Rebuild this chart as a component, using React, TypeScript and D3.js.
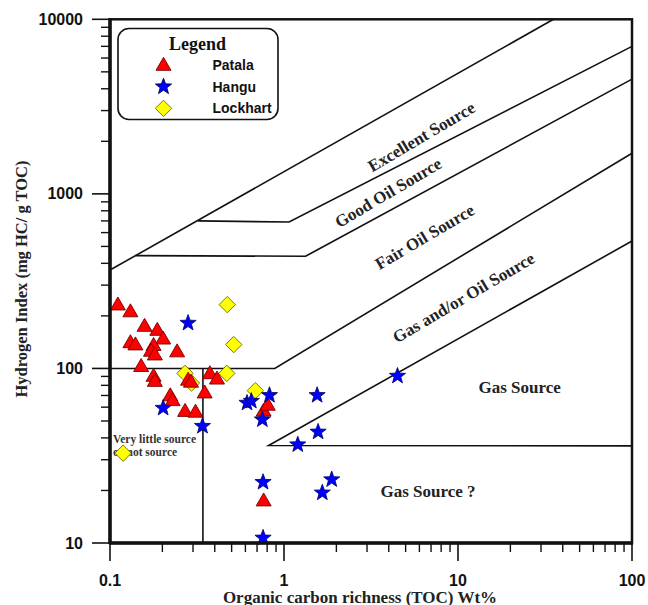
import React from "react";
import * as d3 from "d3";

// ---- data ----
const patalaTOC = [0.111, 0.131, 0.158, 0.187, 0.202, 0.131, 0.14, 0.178, 0.172, 0.181, 0.243, 0.151, 0.178, 0.181, 0.281, 0.292, 0.375, 0.412, 0.35, 0.222, 0.229, 0.27, 0.31, 0.764, 0.807, 0.764];
const patalaHI = [232, 212, 175, 166, 148, 141, 137, 136, 126, 120, 125, 103, 90.5, 84.7, 86, 83.8, 93.7, 87.3, 72.7, 70, 65.7, 57, 56.4, 57.2, 61.8, 17.5];

const hanguTOC = [0.281, 0.202, 0.34, 0.613, 0.649, 0.825, 0.751, 1.55, 1.57, 1.2, 4.49, 0.758, 1.88, 1.66, 0.758];
const hanguHI = [182, 59.3, 46.7, 63.4, 65, 70.2, 50.9, 70.2, 43.3, 36.6, 90.5, 22.3, 23.1, 19.4, 10.7];

const lockhartTOC = [0.472, 0.514, 0.27, 0.294, 0.469, 0.684, 0.119];
const lockhartHI = [232, 137, 93.7, 82.5, 93.7, 74.6, 32.7];

// boundary lines of the source-rock diagram (TOC, HI)
const boundaryTOC = [
  [0.1, 35.4],
  [0.32, 1.07, 100],
  [0.14, 1.33, 100],
  [0.1, 0.885, 100],
  [100, 0.816, 100],
  [0.342, 0.342],
];
const boundaryHI = [
  [366, 10000],
  [700, 690, 7000],
  [443, 439, 4540],
  [100, 100, 1710],
  [537, 36.2, 36],
  [100, 10],
];

const zoneLabels = ["Excellent Source", "Good Oil Source", "Fair Oil Source", "Gas and/or Oil Source"];
const zoneTOC = [6.17, 3.98, 6.44, 10.8];
const zoneHI = [2117, 1014, 565, 254];

const xTicks = [0.1, 1, 10, 100];
const xTickLabels = ["0.1", "1", "10", "100"];
const yTicks = [10, 100, 1000, 10000];
const yTickLabels = ["10", "100", "1000", "10000"];

const legendNames = ["Patala", "Hangu", "Lockhart"];

const W = 648;
const H = 605;
const left = 110, right = 632, top = 19.3, bottom = 543;

function trianglePath(s: number) {
  const h = (s * Math.sqrt(3)) / 2;
  return `M0,${-(2 * h) / 3}L${s / 2},${h / 3}L${-s / 2},${h / 3}Z`;
}
function starPath(R: number, r: number) {
  let p = "";
  for (let i = 0; i < 10; i++) {
    const rad = i % 2 === 0 ? R : r;
    const a = -Math.PI / 2 + (i * Math.PI) / 5;
    p += (i === 0 ? "M" : "L") + (rad * Math.cos(a)).toFixed(2) + "," + (rad * Math.sin(a)).toFixed(2);
  }
  return p + "Z";
}
function diamondPath(r: number) {
  return `M0,${-r}L${r},0L0,${r}L${-r},0Z`;
}

const TRI = trianglePath(15);
const STAR = starPath(8.5, 3.5);
const DIA = diamondPath(8.2);

export default function App() {
  const x = d3.scaleLog().domain([0.1, 100]).range([left, right]);
  const y = d3.scaleLog().domain([10, 10000]).range([bottom, top]);

  const line = d3.line<[number, number]>().x((d) => x(d[0])).y((d) => y(d[1]));

  const minorX: number[] = [];
  const minorY: number[] = [];
  for (let e = -1; e < 2; e++) for (let k = 2; k < 10; k++) minorX.push(k * Math.pow(10, e));
  for (let e = 1; e < 4; e++) for (let k = 2; k < 10; k++) minorY.push(k * Math.pow(10, e));

  const serif = "'Liberation Serif', 'Times New Roman', serif";
  const sans = "'Liberation Sans', Arial, sans-serif";

  return (
    <svg width={W} height={H} style={{ position: "absolute", left: 0, top: 0, background: "#fff" }}>
      <rect x={0} y={0} width={W} height={H} fill="#fff" />
      {/* boundaries */}
      {boundaryTOC.map((xs, i) => (
        <path
          key={"b" + i}
          d={line(xs.map((v, j) => [v, boundaryHI[i][j]] as [number, number])) || ""}
          fill="none"
          stroke="#111"
          strokeWidth={1.6}
        />
      ))}
      {/* zone labels */}
      {zoneLabels.map((t, i) => (
        <text
          key={"z" + i}
          transform={`translate(${x(zoneTOC[i])},${y(zoneHI[i])}) rotate(-30.5)`}
          textAnchor="middle"
          dominantBaseline="central"
          fontFamily={serif}
          fontWeight="bold"
          fontSize={17}
          fill="#222"
        >
          {t}
        </text>
      ))}
      <text x={x(22.6)} y={y(77.3)} textAnchor="middle" dominantBaseline="central" fontFamily={serif} fontWeight="bold" fontSize={17} fill="#222">
        Gas Source
      </text>
      <text x={x(6.72)} y={y(19.6)} textAnchor="middle" dominantBaseline="central" fontFamily={serif} fontWeight="bold" fontSize={17} fill="#222">
        Gas Source ?
      </text>
      <text x={113} y={y(39.6)} dominantBaseline="central" fontFamily={serif} fontWeight="bold" fontSize={11.5} fill="#333">
        Very little source
      </text>
      <text x={113} y={y(33.3)} dominantBaseline="central" fontFamily={serif} fontWeight="bold" fontSize={11.5} fill="#333">
        or not source
      </text>

      {/* markers */}
      {lockhartTOC.map((v, i) => (
        <path key={"l" + i} d={DIA} transform={`translate(${x(v)},${y(lockhartHI[i])})`} fill="#ffff00" stroke="#6b6b00" strokeWidth={0.9} />
      ))}
      {patalaTOC.map((v, i) => (
        <path key={"p" + i} d={TRI} transform={`translate(${x(v)},${y(patalaHI[i]) + 1})`} fill="#ff0000" stroke="#7a0000" strokeWidth={0.9} />
      ))}
      {hanguTOC.map((v, i) => (
        <path key={"h" + i} d={STAR} transform={`translate(${x(v)},${y(hanguHI[i])})`} fill="#0000ff" stroke="#000060" strokeWidth={0.8} />
      ))}

      {/* frame */}
      <rect x={left} y={top} width={right - left} height={bottom - top} fill="none" stroke="#111" strokeWidth={2.5} />
      <line x1={left - 1} x2={right + 1} y1={bottom} y2={bottom} stroke="#111" strokeWidth={3.5} />
      <line x1={left} x2={left} y1={top - 1} y2={bottom + 1} stroke="#111" strokeWidth={3.5} />

      {/* y ticks */}
      {yTicks.map((t, i) => (
        <g key={"yt" + i}>
          <line x1={left - 18} x2={left} y1={y(t)} y2={y(t)} stroke="#111" strokeWidth={1.6} />
          <text x={83} y={y(t)} textAnchor="end" dominantBaseline="central" fontFamily={sans} fontWeight="bold" fontSize={16} fill="#111">
            {yTickLabels[i]}
          </text>
        </g>
      ))}
      {minorY.map((t, i) => (
        <line key={"ym" + i} x1={left - 9} x2={left} y1={y(t)} y2={y(t)} stroke="#111" strokeWidth={1.4} />
      ))}
      {/* x ticks */}
      {xTicks.map((t, i) => (
        <g key={"xt" + i}>
          <line x1={x(t)} x2={x(t)} y1={bottom} y2={bottom + 18} stroke="#111" strokeWidth={1.6} />
          <text x={x(t)} y={580} textAnchor="middle" dominantBaseline="central" fontFamily={sans} fontWeight="bold" fontSize={16} fill="#111">
            {xTickLabels[i]}
          </text>
        </g>
      ))}
      {minorX.map((t, i) => (
        <line key={"xm" + i} x1={x(t)} x2={x(t)} y1={bottom} y2={bottom + 9} stroke="#111" strokeWidth={1.4} />
      ))}

      {/* axis titles */}
      <text x={360} y={597} textAnchor="middle" dominantBaseline="central" fontFamily={serif} fontWeight="bold" fontSize={17} fill="#222">
        Organic carbon richness (TOC) Wt%
      </text>
      <text
        transform={`translate(21,279) rotate(-90)`}
        textAnchor="middle"
        dominantBaseline="central"
        fontFamily={serif}
        fontWeight="bold"
        fontSize={16.5}
        fill="#222"
      >
        Hydrogen Index (mg HC/ g TOC)
      </text>

      {/* legend */}
      <rect x={118} y={28.5} width={160} height={91} rx={11} ry={11} fill="#fff" stroke="#111" strokeWidth={1.6} />
      <text x={197.5} y={44} textAnchor="middle" dominantBaseline="central" fontFamily={serif} fontWeight="bold" fontSize={18} fill="#111">
        Legend
      </text>
      {legendNames.map((n, i) => {
        const cy = 65 + i * 21.7;
        const d = i === 0 ? TRI : i === 1 ? STAR : DIA;
        const fill = i === 0 ? "#ff0000" : i === 1 ? "#0000ff" : "#ffff00";
        const stroke = i === 0 ? "#7a0000" : i === 1 ? "#000060" : "#6b6b00";
        return (
          <g key={"lg" + i}>
            <path d={d} transform={`translate(163.5,${cy + (i === 0 ? 1 : 0)})`} fill={fill} stroke={stroke} strokeWidth={0.9} />
            <text x={212.5} y={cy} dominantBaseline="central" fontFamily={sans} fontWeight="bold" fontSize={14} fill="#111">
              {n}
            </text>
          </g>
        );
      })}
    </svg>
  );
}
